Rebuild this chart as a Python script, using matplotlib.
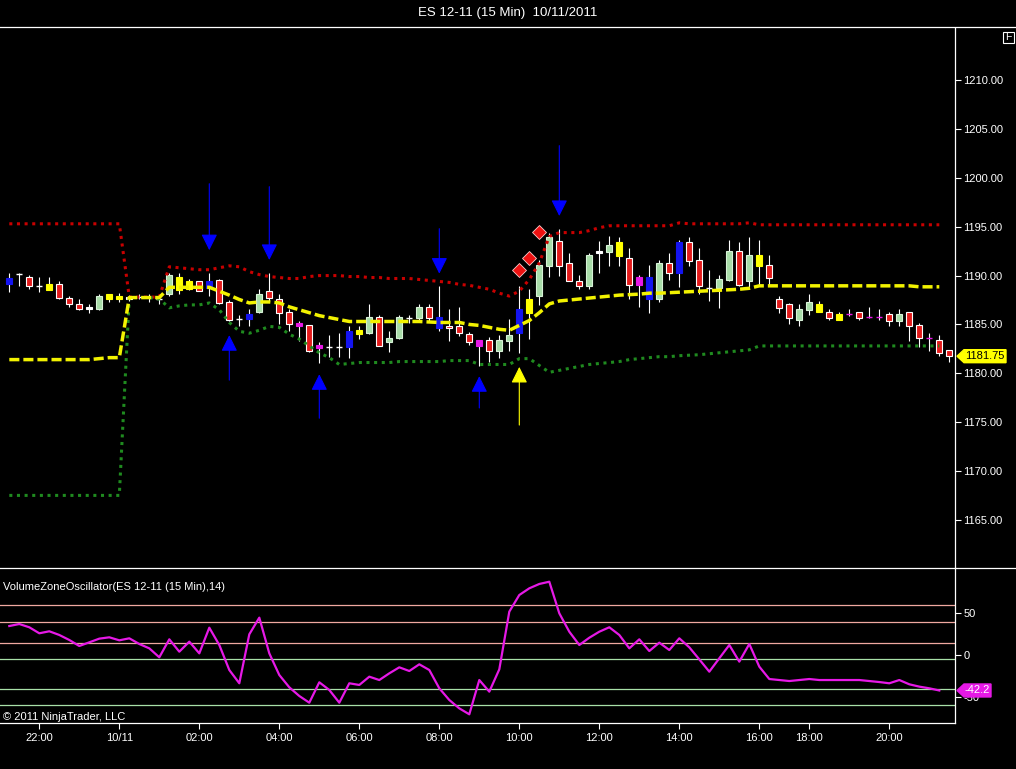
import numpy as np
import matplotlib
matplotlib.use("Agg")
import matplotlib.pyplot as plt
from matplotlib.lines import Line2D
from matplotlib.patches import Polygon, Rectangle
from matplotlib.ticker import FormatStrFormatter
from matplotlib.transforms import IdentityTransform

plt.rcParams['font.family'] = ['Liberation Sans', 'DejaVu Sans']
plt.rcParams['axes.unicode_minus'] = False

# ---- candle data (ES 12-11, 15 min bars) ----
opens = [1189.1, 1190.2, 1189.9, 1188.9, 1188.5, 1189.1, 1187.7, 1187.1, 1186.6, 1186.6,
         1187.6, 1187.6, 1187.6, 1187.8, 1187.8, 1187.65, 1188.1, 1188.5, 1188.6, 1189.4,
         1188.7, 1189.5, 1187.3, 1185.6, 1185.6, 1186.3, 1188.4, 1187.65, 1186.3, 1184.8,
         1184.9, 1182.55, 1182.65, 1182.65, 1182.65, 1184.0, 1184.1, 1185.8, 1183.2, 1183.6,
         1185.7, 1185.7, 1186.8, 1185.8, 1184.8, 1184.8, 1184.0, 1182.8, 1183.4, 1182.25,
         1183.3, 1184.1, 1186.2, 1187.9, 1191.0, 1193.5, 1191.3, 1189.4, 1188.9, 1192.35,
         1192.45, 1192.0, 1191.8, 1189.0, 1189.9, 1187.65, 1191.3, 1190.3, 1193.4, 1191.6,
         1188.7, 1188.7, 1189.5, 1192.55, 1189.4, 1192.1, 1191.1, 1187.65, 1187.1, 1185.5,
         1186.5, 1187.1, 1186.3, 1186.1, 1186.1, 1186.3, 1185.8, 1185.8, 1186.1, 1185.3,
         1186.3, 1184.9, 1183.6, 1183.4, 1182.35]
highs = [1190.3, 1190.3, 1190.1, 1189.9, 1189.9, 1189.4, 1187.9, 1187.6, 1187.1, 1188.1,
         1188.1, 1188.2, 1188.0, 1188.1, 1188.1, 1188.0, 1190.3, 1190.3, 1189.6, 1189.4,
         1190.3, 1189.7, 1187.45, 1186.0, 1186.6, 1188.6, 1190.3, 1188.1, 1186.6, 1185.4,
         1184.9, 1183.2, 1183.9, 1184.1, 1184.8, 1184.8, 1187.1, 1186.0, 1184.3, 1186.0,
         1186.0, 1187.1, 1187.1, 1188.9, 1186.6, 1186.8, 1184.2, 1183.4, 1183.7, 1183.9,
         1185.6, 1188.9, 1188.6, 1191.6, 1194.4, 1194.8, 1192.35, 1190.1, 1192.35, 1193.5,
         1194.1, 1193.9, 1192.85, 1190.1, 1191.1, 1191.6, 1192.35, 1193.6, 1193.9, 1192.85,
         1190.6, 1190.1, 1193.6, 1193.4, 1193.9, 1193.6, 1192.1, 1187.9, 1187.2, 1187.1,
         1188.1, 1187.4, 1186.6, 1186.3, 1186.6, 1186.3, 1186.8, 1186.6, 1186.3, 1186.6,
         1186.3, 1185.1, 1184.1, 1183.9, 1182.35]
lows = [1188.3, 1188.9, 1188.6, 1188.3, 1188.5, 1187.6, 1186.8, 1186.5, 1186.2, 1186.5,
        1187.3, 1187.3, 1187.4, 1187.6, 1187.3, 1187.1, 1187.9, 1188.1, 1188.5, 1188.4,
        1187.9, 1187.1, 1185.3, 1184.8, 1184.8, 1186.2, 1187.35, 1185.0, 1184.3, 1183.3,
        1182.2, 1181.1, 1181.7, 1181.7, 1181.6, 1183.5, 1184.0, 1182.8, 1182.2, 1183.5,
        1185.1, 1185.5, 1185.3, 1184.3, 1183.3, 1183.8, 1182.9, 1180.7, 1181.2, 1181.6,
        1182.25, 1182.1, 1183.5, 1187.0, 1189.9, 1190.0, 1189.4, 1188.6, 1188.6, 1190.3,
        1191.0, 1191.0, 1187.65, 1186.8, 1186.2, 1187.25, 1189.5, 1188.8, 1191.0, 1188.1,
        1187.35, 1186.7, 1189.4, 1188.9, 1188.8, 1188.9, 1188.9, 1186.2, 1185.0, 1184.8,
        1186.0, 1186.3, 1185.5, 1185.5, 1185.9, 1185.5, 1185.7, 1185.5, 1184.8, 1184.8,
        1183.3, 1182.65, 1182.25, 1181.8, 1181.2]
closes = [1189.8, 1190.2, 1188.9, 1188.9, 1189.1, 1187.7, 1187.1, 1186.6, 1186.8, 1187.9,
          1188.1, 1187.9, 1187.8, 1187.8, 1187.8, 1187.65, 1190.1, 1189.9, 1189.4, 1188.4,
          1189.4, 1187.2, 1185.5, 1185.6, 1186.1, 1188.1, 1187.75, 1186.2, 1185.0, 1185.1,
          1182.25, 1182.85, 1182.65, 1182.65, 1184.3, 1184.4, 1185.8, 1182.8, 1183.6, 1185.8,
          1185.7, 1186.8, 1185.7, 1184.6, 1184.6, 1184.1, 1183.2, 1183.4, 1182.25, 1183.4,
          1183.9, 1186.6, 1187.65, 1191.1, 1193.9, 1191.0, 1189.4, 1188.9, 1192.1, 1192.55,
          1193.1, 1193.4, 1189.0, 1189.9, 1187.65, 1191.3, 1190.3, 1193.4, 1191.5, 1188.9,
          1188.7, 1189.6, 1192.55, 1189.0, 1192.1, 1191.0, 1189.8, 1186.7, 1185.7, 1186.6,
          1187.3, 1186.3, 1185.7, 1185.5, 1186.1, 1185.7, 1185.8, 1185.8, 1185.3, 1186.1,
          1184.8, 1183.6, 1183.6, 1182.1, 1181.75]
# volume colour class of each bar: r red, g green, b blue, y yellow, m magenta, w white
bar_class = list("bwrwyrrrwgyywwwwgyyrbrrwbgrrrmrmwwbygrggwgrbrrrmrggbyggrrrgwgyrmbgrbrrwggrgyrrrggyrymrmmrgrrmrr")

# ---- bands (upper / mid / lower) ----
upper_band = ([1195.3] * 12 + [1187.8] * 4 +
              [1190.9, 1190.8, 1190.7, 1190.6, 1190.6, 1190.8, 1191.0, 1190.9, 1190.4, 1190.1,
               1189.9, 1189.8, 1189.7, 1189.7, 1189.9, 1190.0, 1190.0, 1190.0] +
              [1189.9, 1189.9, 1189.8, 1189.8, 1189.7, 1189.7, 1189.7, 1189.6, 1189.5, 1189.4,
               1189.3, 1189.1, 1189.0, 1188.8, 1188.6, 1188.2, 1187.9] +
              [1188.4, 1189.6, 1191.3, 1194.0, 1194.4, 1194.4, 1194.4, 1194.6, 1194.9, 1195.1,
               1195.1, 1195.1, 1195.1, 1195.1, 1195.1, 1195.1] +
              [1195.4] + [1195.3] * 6 + [1195.4] + [1195.2] * 19)
mid_band = ([1181.4] * 9 + [1181.5, 1181.6, 1181.6] + [1187.75] * 4 + [1188.8] * 5 +
            [1188.4, 1188.0, 1187.55, 1187.2, 1187.3, 1187.3, 1187.2, 1186.8, 1186.5, 1186.2,
             1185.9, 1185.7, 1185.5] +
            [1185.3] * 8 + [1185.25, 1185.2, 1185.2, 1185.2] +
            [1185.0, 1184.9, 1184.7, 1184.5, 1184.4] +
            [1184.9, 1185.4, 1186.2, 1187.1, 1187.4, 1187.5, 1187.6, 1187.7, 1187.8, 1187.9,
             1188.0, 1188.05, 1188.1, 1188.2, 1188.2, 1188.25, 1188.3, 1188.35, 1188.4, 1188.45,
             1188.5, 1188.55, 1188.6, 1188.7] +
            [1188.95] * 16 + [1188.85] * 3)
lower_band = ([1167.5] * 12 + [1187.75] * 3 + [1187.6] +
              [1186.7, 1186.9, 1187.0, 1187.0, 1187.2, 1186.5, 1185.2, 1184.3, 1184.1, 1184.4,
               1184.8, 1184.7, 1184.0, 1183.5, 1182.8, 1182.1, 1181.6, 1180.9] +
              [1181.0, 1181.1, 1181.1, 1181.1, 1181.1, 1181.2, 1181.2, 1181.2, 1181.2, 1181.2,
               1181.3, 1181.3, 1181.3] +
              [1180.9] * 4 +
              [1181.5, 1181.5, 1180.8, 1180.1, 1180.3, 1180.5, 1180.7, 1180.9, 1181.0, 1181.1,
               1181.2] +
              [1181.4, 1181.5, 1181.6, 1181.7, 1181.7, 1181.8, 1181.85, 1181.9, 1182.0, 1182.1,
               1182.2, 1182.3, 1182.4] +
              [1182.8] * 19)

# ---- signals ----
down_bars = [20, 26, 43, 55]
down_tail = [1199.4, 1199.1, 1194.8, 1203.3]
down_tip = [1192.6, 1191.6, 1190.2, 1196.1]
up_bars = [22, 31, 47]
up_tail = [1179.3, 1175.4, 1176.45]
up_tip = [1183.9, 1179.9, 1179.7]
yellow_bars = [51]
yellow_tail = [1174.7]
yellow_tip = [1180.65]
diamond_bars = [51, 52, 53]
diamond_price = [1190.6, 1191.8, 1194.5]

# ---- volume zone oscillator ----
vzo = [34.9, 37.3, 33.4, 26.2, 28.6, 24.2, 18.2, 11.0, 15.4, 19.8,
       21.4, 17.8, 20.2, 13.4, 8.2, -2.5, 19.0, 4.2, 16.2, 2.2,
       32.9, 12.2, -17.7, -33.6, 25.0, 44.9, 2.2, -23.7, -38.4, -48.8,
       -56.8, -32.4, -41.6, -56.8, -33.6, -35.6, -25.7, -29.7, -21.7, -14.5,
       -18.9, -10.9, -17.7, -39.6, -53.6, -63.6, -70.7, -29.7, -43.6, -16.9,
       52.1, 72.0, 80.0, 85.2, 87.9, 50.1, 28.1, 12.2, 20.9, 28.1,
       33.4, 24.2, 8.2, 19.0, 5.0, 15.0, 6.2, 20.2, 9.4, -5.0,
       -19.7, -3.7, 12.2, -7.7, 13.4, -13.7, -28.5, -29.7, -30.9, -29.7,
       -28.5, -29.7, -29.7, -29.7, -29.7, -29.7, -30.9, -32.1, -33.6, -29.7,
       -34.8, -37.6, -39.6, -42.2]
vzo_levels_up = [60, 40, 15]
vzo_levels_dn = [-5, -40, -60]

tick_bars = [3, 11, 19, 27, 35, 43, 51, 59, 67, 75, 80, 88]
tick_labels = ['22:00', '10/11', '02:00', '04:00', '06:00', '08:00', '10:00',
               '12:00', '14:00', '16:00', '18:00', '20:00']

fill_col = {'r': '#e31b1b', 'g': '#a8dca8', 'b': '#1414f0', 'y': '#ffff00',
            'm': '#e619e6', 'w': '#ffffff'}
edge_col = {'r': '#ffffff', 'g': '#d8f2d8', 'b': '#1414f0', 'y': '#ffff00',
            'm': '#e619e6', 'w': '#ffffff'}

W, H = 1016, 769
fig = plt.figure(figsize=(W / 100, H / 100), dpi=100, facecolor='black')
ax = fig.add_axes([0, 1 - 568 / H, 955 / W, 540 / H])
osc = fig.add_axes([0, 1 - 723 / H, 955 / W, 155 / H], sharex=ax)

for a in (ax, osc):
    a.set_facecolor('black')
    for s in a.spines.values():
        s.set_visible(False)
    a.spines['right'].set_visible(True)
    a.spines['right'].set_color('white')
    a.spines['right'].set_linewidth(0.9)
osc.spines['bottom'].set_visible(True)
osc.spines['bottom'].set_color('white')
osc.spines['bottom'].set_linewidth(0.9)

# candles
x = np.arange(len(opens))
o, h, l, c = map(np.array, (opens, highs, lows, closes))
ax.vlines(x, l, h, color='white', lw=0.8, zorder=2)
body = np.abs(c - o)
is_doji = body < 0.05
bx = x[~is_doji]
cls = [bar_class[i] for i in bx]
ax.bar(bx, body[~is_doji], bottom=np.minimum(o, c)[~is_doji], width=0.62,
       color=[fill_col[k] for k in cls], edgecolor=[edge_col[k] for k in cls],
       linewidth=0.8, zorder=3)
for i in x[is_doji]:
    ax.hlines(o[i], i - 0.3, i + 0.3, color=fill_col[bar_class[i]], lw=1.0, zorder=3)

# bands
bx_band = np.arange(len(upper_band))
ax.plot(bx_band, upper_band, color='#c80000', lw=2.2, ls=(0, (1, 1.5)), zorder=4)
ax.plot(bx_band, lower_band, color='#1f8a1f', lw=2.2, ls=(0, (1, 1.5)), zorder=4)
ax.plot(bx_band, mid_band, color='#f2f200', lw=2.5, ls=(0, (2.9, 1.15)), zorder=5)

# arrows
def arrows(bars, tails, tips, colour):
    for b, t0, t1 in zip(bars, tails, tips):
        ax.annotate('', xy=(b, t1), xytext=(b, t0),
                    arrowprops=dict(arrowstyle='-|>,head_length=0.9,head_width=0.45',
                                    color=colour, lw=0.8, mutation_scale=11,
                                    shrinkA=0, shrinkB=0), zorder=6)

arrows(down_bars, down_tail, down_tip, '#0000ff')
arrows(up_bars, up_tail, up_tip, '#0000ff')
arrows(yellow_bars, yellow_tail, yellow_tip, '#ffff00')
ax.plot(diamond_bars, diamond_price, ls='none', marker='D', ms=7,
        mfc='#ee1111', mec='#ffcccc', mew=0.6, zorder=6)

ax.set_xlim(-0.93, 94.57)
ax.set_ylim(1160.07, 1215.34)
ax.set_yticks(np.arange(1165, 1211, 5))
ax.yaxis.set_major_formatter(FormatStrFormatter('%.2f'))
ax.tick_params(axis='y', left=False, labelleft=False, right=True, labelright=True,
               colors='white', length=4, width=0.8, labelsize=8, pad=2)
ax.tick_params(axis='x', bottom=False, labelbottom=False)

# oscillator
for lv in vzo_levels_up:
    osc.axhline(lv, color='#f0a8a0', lw=0.9, zorder=1)
for lv in vzo_levels_dn:
    osc.axhline(lv, color='#a8e0a8', lw=0.9, zorder=1)
osc.plot(np.arange(len(vzo)), vzo, color='#e619e6', lw=1.6, zorder=3)
osc.set_ylim(-81.1, 104.3)
osc.set_yticks([-50, 0, 50])
osc.tick_params(axis='y', left=False, labelleft=False, right=True, labelright=True,
                colors='white', length=4, width=0.8, labelsize=8, pad=2)
osc.set_xticks(tick_bars)
osc.set_xticklabels(tick_labels)
osc.tick_params(axis='x', colors='white', length=4, width=0.8, labelsize=8, pad=3)
osc.text(0.003, 0.879, 'VolumeZoneOscillator(ES 12-11 (15 Min),14)', transform=osc.transAxes,
         color='white', fontsize=8, ha='left', va='center')
osc.text(0.003, 0.041, '\u00a9 2011 NinjaTrader, LLC', transform=osc.transAxes,
         color='white', fontsize=8, ha='left', va='center')

# frame lines and title
for yy in (27, 568):
    fig.add_artist(Line2D([0, 1], [1 - yy / H] * 2, color='white', lw=0.9,
                          transform=fig.transFigure))
fig.text(0.5, 1 - 13 / H, 'ES 12-11 (15 Min)  10/11/2011', ha='center', va='center',
         color='white', fontsize=9.5)
# small "F" box in the top-right corner
fig.add_artist(Rectangle((1002.5, H - 42.5), 11, 11, fc='black', ec='white', lw=0.8,
                         transform=IdentityTransform()))
fig.text(1008, H - 37, 'F', transform=IdentityTransform(), ha='center', va='center',
         color='white', fontsize=7.5)


def value_tag(axis, value, label, fc, tc, width):
    px, py = axis.transData.transform((axis.get_xlim()[1], value))
    hh = 6.5
    verts = [(px + 2, py), (px + 9, py + hh), (px + 2 + width, py + hh),
             (px + 2 + width, py - hh), (px + 9, py - hh)]
    fig.add_artist(Polygon(verts, closed=True, fc=fc, ec=fc, transform=IdentityTransform()))
    fig.text(px + 9 + (width - 7) / 2, py, label, transform=IdentityTransform(),
             ha='center', va='center', color=tc, fontsize=8)


value_tag(ax, closes[-1], '%.2f' % closes[-1], '#ffff00', 'black', 49)
value_tag(osc, vzo[-1], '%.1f' % vzo[-1], '#e619e6', 'white', 34)

fig.savefig('out.png', dpi=100, facecolor='black')
